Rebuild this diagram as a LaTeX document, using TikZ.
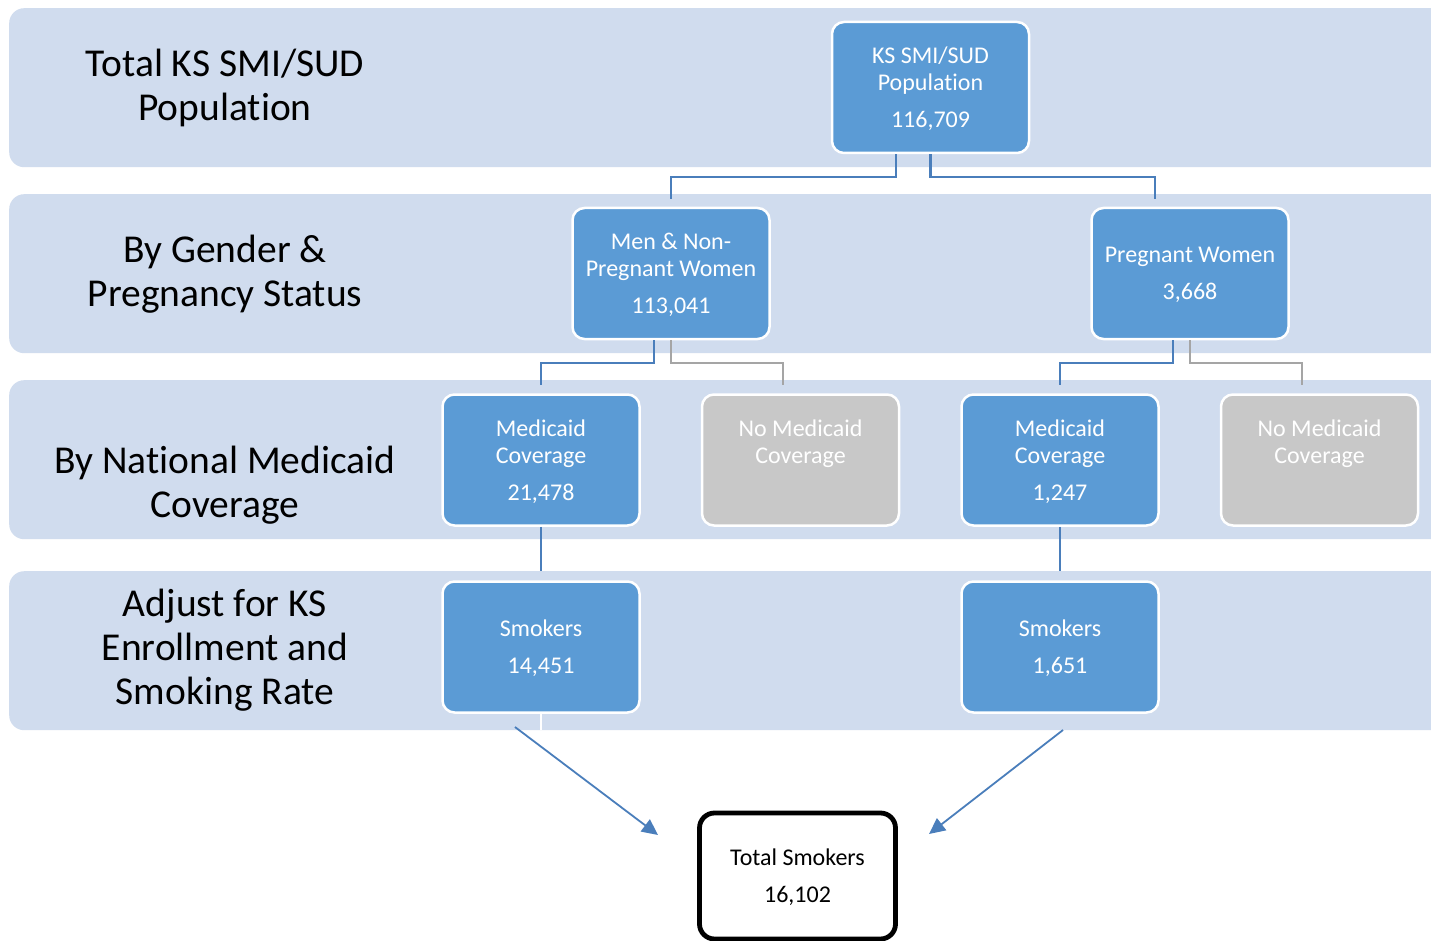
\documentclass[tikz,border=0pt]{standalone}
\usepackage{fontspec}
\setmainfont{Carlito}[Ligatures=NoCommon]
\usetikzlibrary{arrows.meta}
\definecolor{bandc}{HTML}{D0DCEE}
\definecolor{boxblue}{HTML}{5B9BD5}
\definecolor{linkblue}{HTML}{4A7EBB}
\definecolor{boxgrey}{HTML}{C8C8C8}
\definecolor{linkgrey}{HTML}{A5A5A5}
\begin{document}
\begin{tikzpicture}[x=1pt,y=-1pt,
  bandbox/.style={fill=bandc, rounded corners=15pt, minimum width=1460pt, minimum height=159pt, anchor=north west, inner sep=0pt},
  bandlabel/.style={align=center, font=\fontsize{39.5}{44}\selectfont, text=black, inner sep=0pt},
  orgbox/.style={draw=white, line width=2.5pt, fill=boxblue, rounded corners=12pt, minimum width=197pt, minimum height=131pt, text=white, align=center, font=\fontsize{24}{27}\selectfont, inner sep=0pt},
  greybox/.style={orgbox, fill=boxgrey},
  totalbox/.style={draw=black, line width=4.8pt, fill=white, rounded corners=15pt, minimum width=196pt, minimum height=126pt, text=black, align=center, font=\fontsize{24}{27}\selectfont, inner sep=0pt},
  link/.style={draw=linkblue, line width=2.2pt},
  glink/.style={draw=linkgrey, line width=1.3pt},
  arr/.style={draw=linkblue, line width=1.8pt, -{Triangle[length=16pt,width=15pt]}},
  txt/.style={text=white, align=center, font=\fontsize{24}{27}\selectfont, inner sep=0pt}
]
\useasboundingbox (0,0) rectangle (1431,941);
\clip (0,0) rectangle (1431,941);
\fill[white] (0,0) rectangle (1431,941);

% bands
\node[bandbox] (b1) at (9,8) {};
\node[bandbox] (b2) at (9,194) {};
\node[bandbox] (b3) at (9,380) {};
\node[bandbox] (b4) at (9,571) {};

\node[bandlabel] (l1) at (225,88) {Total KS SMI/SUD\\Population};
\node[bandlabel] (l2) at (225,274) {By Gender \&\\Pregnancy Status};
\node[bandlabel] (l3) at (225,485) {By National Medicaid\\Coverage};
\node[bandlabel] (l4) at (225,650) {Adjust for KS\\Enrollment and\\Smoking Rate};

% boxes
\node[orgbox] (top) at (930.5,87.5) {};
\node[orgbox] (men) at (671,273.5) {};
\node[orgbox] (preg) at (1190,273.5) {};
\node[orgbox] (med1) at (541,460) {};
\node[greybox] (nomed1) at (800.5,460) {};
\node[orgbox] (med2) at (1060,460) {};
\node[greybox] (nomed2) at (1319.5,460) {};
\node[orgbox] (smk1) at (541,647) {};
\node[orgbox] (smk2) at (1060,647) {};
\node[totalbox] (total) at (797.5,876) {};

% box texts
\node[txt] (ttop) at (930.5,89) {KS SMI/SUD\\Population\\[10pt]116,709};
\node[txt] (tmen) at (671,275) {Men \& Non-\\Pregnant Women\\[10pt]113,041};
\node[txt] (tpreg) at (1190,275) {Pregnant Women\\[10pt]3,668};
\node[txt] (tmed1) at (541,462) {Medicaid\\Coverage\\[10pt]21,478};
\node[txt] (tnomed1) at (800.5,460) {No Medicaid\\Coverage\\[10pt]\phantom{1}};
\node[txt] (tmed2) at (1060,462) {Medicaid\\Coverage\\[10pt]1,247};
\node[txt] (tnomed2) at (1319.5,460) {No Medicaid\\Coverage\\[10pt]\phantom{1}};
\node[txt] (tsmk1) at (541,648) {Smokers\\[10pt]14,451};
\node[txt] (tsmk2) at (1060,648) {Smokers\\[10pt]1,651};
\node[txt, text=black] (ttotal) at (797.5,877.5) {Total Smokers\\[10pt]16,102};

% junction levels
\coordinate (j1) at (0,177);
\coordinate (j2) at (0,363);

% connectors
\draw[link, shorten >=8pt] ([xshift=-34.5pt]top.south) -- ([xshift=-34.5pt]top.south |- j1) -| (men.north);
\draw[link, shorten >=8pt] (top.south) -- (top.south |- j1) -| ([xshift=-35pt]preg.north);
\draw[link, shorten >=8pt] ([xshift=-17pt]men.south) -- ([xshift=-17pt]men.south |- j2) -| (med1.north);
\draw[glink, shorten >=8pt] (men.south) -- (men.south |- j2) -| ([xshift=-17.5pt]nomed1.north);
\draw[link, shorten >=8pt] ([xshift=-17pt]preg.south) -- ([xshift=-17pt]preg.south |- j2) -| (med2.north);
\draw[glink, shorten >=8pt] (preg.south) -- (preg.south |- j2) -| ([xshift=-17.5pt]nomed2.north);
\draw[link, shorten >=9pt] (med1.south) -- (smk1.north);
\draw[link, shorten >=9pt] (med2.south) -- (smk2.north);
\coordinate (w1) at (541,730);
\draw[white, line width=2pt] (smk1.south) -- (w1);

% arrows to total
\coordinate (a1s) at (515,727);
\coordinate (a1e) at (658,835);
\coordinate (a2s) at (1063,730);
\coordinate (a2e) at (929,834);
\draw[arr] (a1s) -- (a1e);
\draw[arr] (a2s) -- (a2e);
\end{tikzpicture}
\end{document}
